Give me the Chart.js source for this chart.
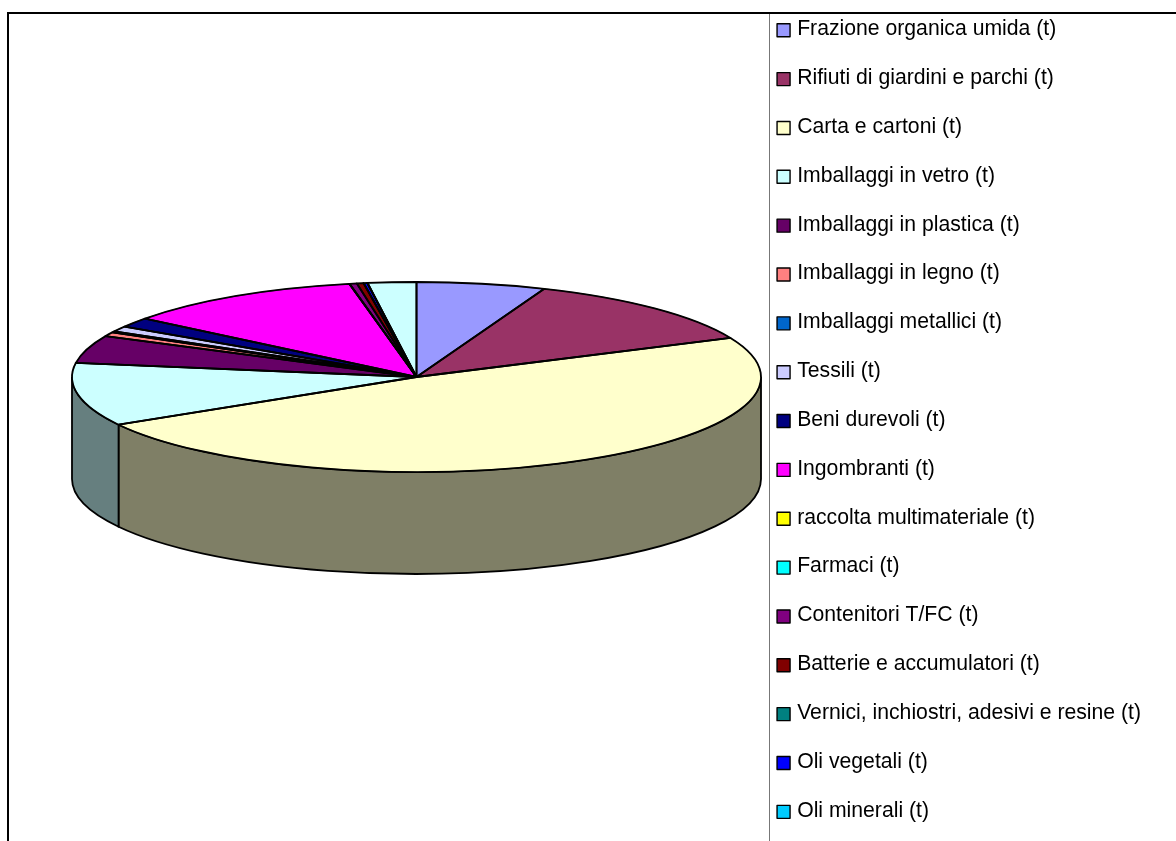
<!DOCTYPE html>
<html>
<head>
<meta charset="utf-8">
<script src="https://cdn.jsdelivr.net/npm/chart.js@4"></script>
<style>
  html, body { margin: 0; padding: 0; background: #fff; overflow: hidden; height: 841px; }
  #chartCanvas { position: absolute; left: 0; top: -9px; }
  .frame { position: absolute; }
</style>
</head>
<body>
<canvas id="chartCanvas" width="1176" height="890"></canvas>
<div class="frame" style="left:8px;top:12px;width:1168px;height:2px;background:#000"></div>
<div class="frame" style="left:7px;top:12px;width:2px;height:829px;background:#000"></div>
<div class="frame" style="left:769px;top:14px;width:1px;height:827px;background:#777"></div>
<script>
// the 18th slice has its legend row below the edge of the picture
const categories = [
  "Frazione organica umida (t)", "Rifiuti di giardini e parchi (t)", "Carta e cartoni (t)",
  "Imballaggi in vetro (t)", "Imballaggi in plastica (t)", "Imballaggi in legno (t)",
  "Imballaggi metallici (t)", "Tessili (t)", "Beni durevoli (t)", "Ingombranti (t)",
  "raccolta multimateriale (t)", "Farmaci (t)", "Contenitori T/FC (t)",
  "Batterie e accumulatori (t)", "Vernici, inchiostri, adesivi e resine (t)",
  "Oli vegetali (t)", "Oli minerali (t)", ""
];
const values = [
  6.05, 12.2, 48.38, 10.73, 4.72, 0.7, 0.19, 0.93, 1.65, 11.32,
  0.01, 0.01, 0.34, 0.31, 0.01, 0.17, 0.01, 2.27
];
const colors = [
  "#9999FF", "#993366", "#FFFFCC", "#CCFFFF", "#660066", "#FF8080", "#0066CC", "#CCCCFF", "#000080",
  "#FF00FF", "#FFFF00", "#00FFFF", "#800080", "#800000", "#008080", "#0000FF", "#00CCFF", "#CCFFFF"
];

// where the flattened pie sits on the canvas (canvas is shifted up by 9px)
const pieX = 416.5, pieY = 386, pieRx = 344.5, pieRy = 95, pieDepth = 102;
const swatch = 13;

function darker(hex) {
  const n = parseInt(hex.slice(1), 16);
  return `rgb(${(n >> 16) >> 1},${((n >> 8) & 255) >> 1},${(n & 255) >> 1})`;
}

const pie3d = {
  id: "pie3d",
  beforeDatasetsDraw(chart) {
    const arcs = chart.getDatasetMeta(0).data;
    const ctx = chart.ctx;
    // side wall, only the front half shows
    arcs.forEach((arc, i) => {
      const a0 = Math.max(arc.startAngle, 0);
      const a1 = Math.min(arc.endAngle, Math.PI);
      if (a1 <= a0) return;
      ctx.beginPath();
      ctx.ellipse(pieX, pieY, pieRx, pieRy, 0, a0, a1);
      ctx.ellipse(pieX, pieY + pieDepth, pieRx, pieRy, 0, a1, a0, true);
      ctx.closePath();
      ctx.fillStyle = darker(colors[i]);
      ctx.fill();
      ctx.lineWidth = 1.8;
      ctx.strokeStyle = "#000";
      ctx.stroke();
    });
    const r = arcs[0].outerRadius;
    ctx.save();
    ctx.translate(pieX, pieY);
    ctx.scale(pieRx / r, pieRy / r);
    ctx.translate(-arcs[0].x, -arcs[0].y);
  },
  afterDatasetsDraw(chart) {
    const ctx = chart.ctx;
    ctx.restore();
    // outlines drawn here so the line width is not squashed with the pie
    chart.getDatasetMeta(0).data.forEach(arc => {
      ctx.beginPath();
      ctx.moveTo(pieX, pieY);
      ctx.ellipse(pieX, pieY, pieRx, pieRy, 0, arc.startAngle, arc.endAngle);
      ctx.closePath();
      ctx.lineWidth = 1.8;
      ctx.strokeStyle = "#000";
      ctx.lineJoin = "round";
      ctx.stroke();
    });
  },
  // legend boxes sit closer to the text than Chart.js allows for this font size
  afterDraw(chart) {
    const ctx = chart.ctx;
    chart.legend.legendHitBoxes.forEach((hit, i) => {
      const y = hit.top + hit.height / 2 - swatch / 2 + 1;
      ctx.fillStyle = colors[i];
      ctx.strokeStyle = "#000";
      ctx.lineWidth = 1.4;
      ctx.clearRect(hit.left - 1, y - 2, swatch + 2, swatch + 4);
      ctx.fillRect(hit.left, y, swatch, swatch);
      ctx.strokeRect(hit.left, y, swatch, swatch);
    });
  }
};

new Chart(document.getElementById("chartCanvas").getContext("2d"), {
  type: "pie",
  data: {
    labels: categories,
    datasets: [{
      data: values,
      backgroundColor: colors,
      borderColor: "#000",
      borderWidth: 1,
      clip: false
    }]
  },
  options: {
    responsive: false,
    animation: false,
    layout: { padding: { right: 25 } },
    plugins: {
      tooltip: { enabled: false },
      legend: {
        position: "right",
        align: "start",
        labels: {
          boxWidth: 9.5,
          boxHeight: 9.5,
          padding: 27.65,
          color: "#000",
          font: { family: "'Liberation Sans', Arial, sans-serif", size: 21.2 },
          filter: item => item.text !== ""
        }
      }
    }
  },
  plugins: [pie3d]
});
</script>
</body>
</html>
